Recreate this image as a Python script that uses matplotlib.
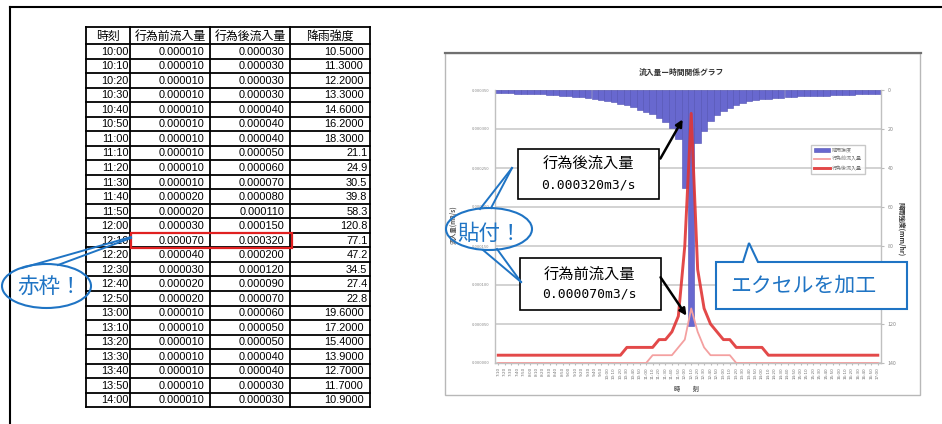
import matplotlib
matplotlib.use("Agg")
import matplotlib.pyplot as plt
from matplotlib.patches import Rectangle, Ellipse, Polygon

plt.rcParams['font.family'] = ['Noto Sans CJK JP', 'DejaVu Sans']

# ---------------- table data ----------------
times = ["10:00", "10:10", "10:20", "10:30", "10:40", "10:50", "11:00", "11:10",
         "11:20", "11:30", "11:40", "11:50", "12:00", "12:10", "12:20", "12:30",
         "12:40", "12:50", "13:00", "13:10", "13:20", "13:30", "13:40", "13:50", "14:00"]
inflow_before = [0.000010, 0.000010, 0.000010, 0.000010, 0.000010, 0.000010, 0.000010,
                 0.000010, 0.000010, 0.000010, 0.000020, 0.000020, 0.000030, 0.000070,
                 0.000040, 0.000030, 0.000020, 0.000020, 0.000010, 0.000010, 0.000010,
                 0.000010, 0.000010, 0.000010, 0.000010]
inflow_after = [0.000030, 0.000030, 0.000030, 0.000030, 0.000040, 0.000040, 0.000040,
                0.000050, 0.000060, 0.000070, 0.000080, 0.000110, 0.000150, 0.000320,
                0.000200, 0.000120, 0.000090, 0.000070, 0.000060, 0.000050, 0.000050,
                0.000040, 0.000040, 0.000030, 0.000030]
rain = [10.5, 11.3, 12.2, 13.3, 14.6, 16.2, 18.3, 21.1, 24.9, 30.5, 39.8, 58.3, 120.8,
        77.1, 47.2, 34.5, 27.4, 22.8, 19.6, 17.2, 15.4, 13.9, 12.7, 11.7, 10.9]
rain_decimals = [4, 4, 4, 4, 4, 4, 4, 1, 1, 1, 1, 1, 1, 1, 1, 1, 1, 1, 4, 4, 4, 4, 4, 4, 4]
headers = ["時刻", "行為前流入量", "行為後流入量", "降雨強度"]

# ---------------- chart data ----------------
chart_times = ["7:10", "7:20", "7:30", "7:40", "7:50", "8:00", "8:10", "8:20", "8:30", "8:40",
               "8:50", "9:00", "9:10", "9:20", "9:30", "9:40", "9:50", "10:00", "10:10", "10:20",
               "10:30", "10:40", "10:50", "11:00", "11:10", "11:20", "11:30", "11:40", "11:50", "12:00",
               "12:10", "12:20", "12:30", "12:40", "12:50", "13:00", "13:10", "13:20", "13:30", "13:40",
               "13:50", "14:00", "14:10", "14:20", "14:30", "14:40", "14:50", "15:00", "15:10", "15:20",
               "15:30", "15:40", "15:50", "16:00", "16:10", "16:20", "16:30", "16:40", "16:50", "17:00"]
chart_rain = [1.5, 1.6, 1.7, 1.8, 1.9, 2.0, 2.2, 2.3, 2.5, 2.7,
              2.9, 3.1, 3.4, 3.7, 4.0, 4.4, 5.0, 5.5, 6.2, 7.0,
              7.9, 8.9, 10.0, 11.2, 12.5, 14.3, 16.5, 19.5, 25.0, 50.0,
              120.8, 27.0, 21.0, 16.0, 13.0, 11.0, 9.0, 7.7, 6.7, 5.6,
              5.0, 4.7, 4.4, 4.1, 3.9, 3.7, 3.5, 3.3, 3.2, 3.1,
              3.0, 2.9, 2.7, 2.6, 2.5, 2.4, 2.3, 2.2, 2.0, 1.9]
chart_before = [0, 0, 0, 0, 0, 0, 0, 0, 0, 0,
                0, 0, 0, 0, 0, 0, 0, 0, 0, 0,
                0, 0, 0, 0, 0.00001, 0.00001, 0.00001, 0.00001, 0.00002, 0.00003,
                0.00007, 0.00004, 0.00002, 0.00001, 0.00001, 0.00001, 0.00001, 0, 0, 0,
                0, 0, 0, 0, 0, 0, 0, 0, 0, 0,
                0, 0, 0, 0, 0, 0, 0, 0, 0, 0]
chart_after = [0.00001, 0.00001, 0.00001, 0.00001, 0.00001, 0.00001, 0.00001, 0.00001, 0.00001, 0.00001,
               0.00001, 0.00001, 0.00001, 0.00001, 0.00001, 0.00001, 0.00001, 0.00001, 0.00001, 0.00001,
               0.00002, 0.00002, 0.00002, 0.00002, 0.00002, 0.00003, 0.00003, 0.00004, 0.00006, 0.00015,
               0.00032, 0.00012, 0.00007, 0.00005, 0.00004, 0.00003, 0.00003, 0.00002, 0.00002, 0.00002,
               0.00002, 0.00002, 0.00001, 0.00001, 0.00001, 0.00001, 0.00001, 0.00001, 0.00001, 0.00001,
               0.00001, 0.00001, 0.00001, 0.00001, 0.00001, 0.00001, 0.00001, 0.00001, 0.00001, 0.00001]
flow_ticks = [0.0, 0.00005, 0.0001, 0.00015, 0.0002, 0.00025, 0.0003, 0.00035]
rain_ticks = [0, 20, 40, 60, 80, 100, 120, 140]

W, H = 942, 424
fig = plt.figure(figsize=(W / 100, H / 100), dpi=100)

# background layer in pixel coordinates (y grows downward)
bg = fig.add_axes([0, 0, 1, 1])
bg.set_xlim(0, W)
bg.set_ylim(H, 0)
bg.axis('off')

# outer frame
bg.plot([10, W], [7, 7], color='black', lw=1.5)
bg.plot([10, 10], [7, H], color='black', lw=1.5)

# ---------------- table ----------------
col_x = [86, 130, 210, 290, 370]
tbl_top, hdr_bot, pitch = 27, 44, 14.53
tbl_bot = hdr_bot + pitch * len(times)
for x in col_x:
    bg.plot([x, x], [tbl_top, tbl_bot], color='black', lw=1.3)
bg.plot([col_x[0], col_x[-1]], [tbl_top, tbl_top], color='black', lw=1.3)
for k in range(len(times) + 1):
    y = hdr_bot + k * pitch
    bg.plot([col_x[0], col_x[-1]], [y, y], color='black', lw=1.3)

hdr_y = (tbl_top + hdr_bot) / 2 + 0.5
for j, h in enumerate(headers):
    bg.text((col_x[j] + col_x[j + 1]) / 2, hdr_y, h, ha='center', va='center',
            fontsize=8.6, color='black')

num_font = dict(family='Liberation Sans', fontsize=7.9, color='black', va='center')
for i, t in enumerate(times):
    y = hdr_bot + pitch * (i + 0.5) + 0.5
    bg.text(128.5, y, t, ha='right', **num_font)
    bg.text(204.5, y, f"{inflow_before[i]:.6f}", ha='right', **num_font)
    bg.text(284.5, y, f"{inflow_after[i]:.6f}", ha='right', **num_font)
    rx = 363.5 if rain_decimals[i] == 4 else 367.5
    bg.text(rx, y, f"{rain[i]:.{rain_decimals[i]}f}", ha='right', **num_font)

# red highlight on the peak row
peak_row = inflow_after.index(max(inflow_after))
ry0 = hdr_bot + pitch * peak_row
bg.add_patch(Rectangle((130.5, ry0 - 0.3), 161, pitch + 0.6, fill=False,
                       edgecolor='#e02020', lw=1.6, zorder=5))

# ---------------- embedded chart ----------------
bg.add_patch(Rectangle((445, 53), 475, 342, facecolor='white', edgecolor='#b8b8b8', lw=1.0))
bg.plot([445, 921], [53, 53], color='#707070', lw=1.6)
bg.text(681, 72, "流入量ー時間関係グラフ", ha='center', va='center', fontsize=5.6,
        fontweight='bold', color='#333333')
bg.text(453, 225, "流入量(m3/s)", ha='center', va='center', rotation=90, fontsize=4.5,
        fontweight='bold', color='#555555')
bg.text(901, 229, "降雨強度(mm/hr)", ha='center', va='center', rotation=-90, fontsize=4.8,
        fontweight='bold', color='#333333')
bg.text(687, 388, "時　　刻", ha='center', va='center', fontsize=4.5,
        fontweight='bold', color='#555555')

px_l, px_r, px_t, px_b = 495, 881, 90, 363
rect = [px_l / W, 1 - px_b / H, (px_r - px_l) / W, (px_b - px_t) / H]
xs = list(range(len(chart_times)))

ax_bar = fig.add_axes(rect)
ax_bar.set_facecolor('white')
bars = ax_bar.bar(xs, chart_rain, width=1.0, color='#6868cf', edgecolor='#4f4fb2',
                  linewidth=0.4, label="降雨強度")
ax_bar.set_ylim(140, 0)
ax_bar.set_xlim(-0.5, len(xs) - 0.5)
ax_bar.set_yticks(rain_ticks)
ax_bar.yaxis.tick_right()
ax_bar.tick_params(axis='y', labelsize=3.8, labelcolor='#888888', color='#bbbbbb',
                   length=2, pad=3)
ax_bar.set_axisbelow(True)
ax_bar.grid(axis='y', color='#cfcfcf', lw=1.3)
ax_bar.set_xticks(xs)
ax_bar.set_xticklabels(chart_times, rotation=90, fontsize=3.0, color='#707070',
                       family='DejaVu Sans')
ax_bar.tick_params(axis='x', length=1.5, color='#bbbbbb', pad=1.5)
for s in ['top', 'left']:
    ax_bar.spines[s].set_visible(False)
for s in ['right', 'bottom']:
    ax_bar.spines[s].set_color('#c0c0c0')
    ax_bar.spines[s].set_linewidth(1.0)

ax_line = fig.add_axes(rect)
ax_line.patch.set_visible(False)
l_before, = ax_line.plot(xs, chart_before, color='#f4a0a0', lw=1.3, label="行為前流入量")
l_after, = ax_line.plot(xs, chart_after, color='#e03535', lw=2.1, alpha=0.9,
                        label="行為後流入量")
ax_line.set_xlim(-0.5, len(xs) - 0.5)
ax_line.set_ylim(0, 0.00035)
ax_line.set_yticks(flow_ticks)
ax_line.set_yticklabels([f"{v:.6f}" for v in flow_ticks])
ax_line.tick_params(axis='y', labelsize=3.0, labelcolor='#888888', length=0, pad=4)
ax_line.set_xticks([])
for s in ['top', 'right', 'bottom']:
    ax_line.spines[s].set_visible(False)
ax_line.spines['left'].set_color('#c0c0c0')
ax_line.spines['left'].set_linewidth(1.0)

leg = ax_line.legend(handles=[bars, l_before, l_after], loc='upper left',
                     bbox_to_anchor=(808 / W, 1 - 142 / H), bbox_transform=fig.transFigure,
                     fontsize=3.6, frameon=True, fancybox=False, edgecolor='#bbbbbb',
                     handlelength=3.2, borderpad=0.6, labelspacing=0.8, handletextpad=0.5)
for txt in leg.get_texts():
    txt.set_color('#777777')

# ---------------- callouts layer ----------------
ov = fig.add_axes([0, 0, 1, 1])
ov.set_xlim(0, W)
ov.set_ylim(H, 0)
ov.axis('off')
ov.patch.set_visible(False)

blue = '#1f74c4'

# "after" value box
ov.add_patch(Rectangle((518, 149), 141, 50, facecolor='white', edgecolor='black', lw=1.2))
ov.text(588, 163, "行為後流入量", ha='center', va='center', fontsize=11)
ov.text(588, 185, f"{max(chart_after):.6f}m3/s", ha='center', va='center', fontsize=9.4,
        family='DejaVu Sans Mono')
ov.annotate('', xy=(684, 117), xytext=(659, 161),
            arrowprops=dict(arrowstyle='-|>', color='black', lw=1.8, mutation_scale=10))

# "before" value box
ov.add_patch(Rectangle((520, 258), 141, 52, facecolor='white', edgecolor='black', lw=1.2))
ov.text(589, 274, "行為前流入量", ha='center', va='center', fontsize=11)
ov.text(589, 294, f"{max(chart_before):.6f}m3/s", ha='center', va='center', fontsize=9.4,
        family='DejaVu Sans Mono')
ov.annotate('', xy=(688, 318), xytext=(659, 275),
            arrowprops=dict(arrowstyle='-|>', color='black', lw=1.8, mutation_scale=10))

# "赤枠！" speech bubble
ov.add_patch(Ellipse((46.5, 286), 89, 44, fill=False, edgecolor=blue, lw=1.5))
ov.plot([22, 131], [268, 237], color=blue, lw=1.4)
ov.plot([58, 131], [265, 238], color=blue, lw=1.4)
ov.text(50, 287, "赤枠！", ha='center', va='center', fontsize=15.5, color=blue)

# "貼付！" speech bubble
ov.add_patch(Ellipse((489, 229), 86, 42, fill=False, edgecolor=blue, lw=1.5))
ov.plot([480, 512], [209, 168], color=blue, lw=1.4)
ov.plot([491, 512], [208, 168], color=blue, lw=1.4)
ov.plot([483, 521], [250, 282], color=blue, lw=1.4)
ov.plot([497, 521], [249, 282], color=blue, lw=1.4)
ov.text(490, 234, "貼付！", ha='center', va='center', fontsize=15.5, color=blue)

# "エクセルを加工" box with pointer
ov.add_patch(Polygon([(716, 262), (743, 262), (749, 243), (758, 262), (907, 262),
                      (907, 309), (716, 309)], closed=True, facecolor='white',
                     edgecolor=blue, lw=1.5))
ov.text(803, 286, "エクセルを加工", ha='center', va='center', fontsize=15, color=blue)

fig.savefig("out.png", dpi=100)
